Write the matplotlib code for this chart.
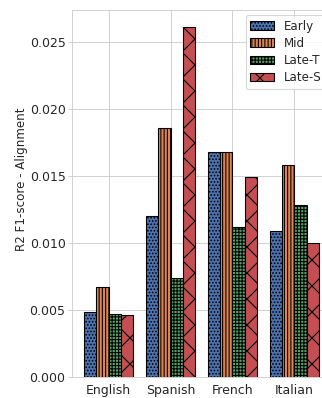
import numpy as np
import matplotlib
matplotlib.use("Agg")
import matplotlib.pyplot as plt
import matplotlib.ticker as mticker
import seaborn as sns

sns.set_style("whitegrid")
plt.rcParams['font.family'] = ['DejaVu Sans']
plt.rcParams['font.size'] = 11

languages = ["English", "Spanish", "French", "Italian"]
stages = ["Early", "Mid", "Late-T", "Late-S"]
early = [0.0048, 0.0120, 0.0168, 0.0109]
mid = [0.0067, 0.0186, 0.0168, 0.0158]
late_t = [0.0047, 0.0074, 0.0112, 0.0128]
late_s = [0.0046, 0.0261, 0.0149, 0.0100]

series = [early, mid, late_t, late_s]
colors = sns.color_palette("deep")[:4]
hatches = ["....", "||||", "++++", "x"]

# render at a lower dpi so the hatch spacing matches the reference
DPI = 78
fig = plt.figure(figsize=(322/DPI, 398/DPI), dpi=DPI)
ax = fig.add_axes([72/322, 21.3/398, 259/322, 366.7/398])

x = np.arange(len(languages))
w = 0.2
for i, (vals, name) in enumerate(zip(series, stages)):
    ax.bar(x - 0.3 + i*w, vals, w, color=colors[i], edgecolor="black",
           hatch=hatches[i], linewidth=1.0, label=name)

ax.set_xticks(x)
ax.set_xticklabels(languages)
ax.tick_params(axis='x', labelsize=11.5, pad=3)
ax.tick_params(axis='y', labelsize=11.5, left=True, length=3.5, color='.8', pad=2.5)
ax.set_ylabel("R2 F1-score - Alignment", fontsize=11)
ax.yaxis.set_label_coords(-0.168, 0.539)
ax.yaxis.set_major_formatter(mticker.FormatStrFormatter('%.3f'))
ax.legend(loc="upper right", frameon=True, fontsize=11, labelspacing=0.36,
          bbox_to_anchor=(1.0, 1.0), borderaxespad=0.4)

fig.savefig("out.png", dpi=DPI)
